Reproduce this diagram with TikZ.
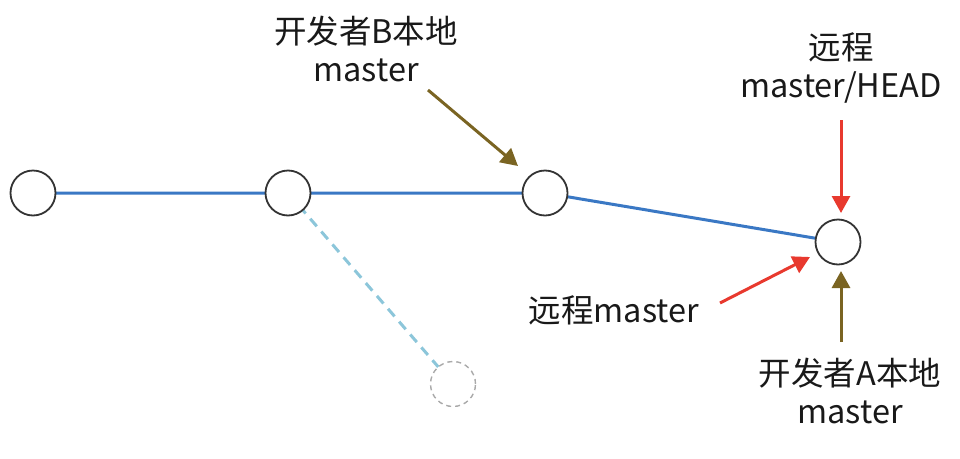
\documentclass[tikz,border=0pt]{standalone}
\usepackage{fontspec}
\setmainfont{Noto Sans CJK SC}
\usetikzlibrary{arrows.meta}
\definecolor{lineblue}{HTML}{3A78C4}
\definecolor{dashblue}{HTML}{8CC6DA}
\definecolor{ghostgray}{HTML}{AAAAAA}
\definecolor{brownarrow}{HTML}{7A6422}
\definecolor{redarrow}{HTML}{E8392E}
\begin{document}
\begin{tikzpicture}[x=1pt,y=-1pt,
  commit/.style={circle,draw=black!80,line width=1.8pt,fill=white,minimum size=45pt,inner sep=0pt},
  ghost/.style={circle,draw=ghostgray,line width=1.4pt,dash pattern=on 5pt off 4pt,fill=white,minimum size=45pt,inner sep=0pt},
  branch/.style={draw=lineblue,line width=3pt},
  dashbranch/.style={draw=dashblue,line width=3pt,dash pattern=on 10pt off 7pt},
  lbl/.style={align=center,font=\fontsize{32.5}{38.5}\selectfont,text=black!90,inner sep=0pt},
  ptr/.style={line width=3pt,-{Triangle[length=17pt,width=18pt]}}
]
\useasboundingbox (0,0) rectangle (960,458);
% edges first (under circles)
\coordinate (c1) at (33,193);
\coordinate (c2) at (288,193);
\coordinate (c3) at (545,193);
\coordinate (c4) at (838,242);
\coordinate (cg) at (453,384);
\draw[branch] (c1) -- (c2) -- (c3) -- (c4);
\draw[dashbranch] (c2) -- (cg);
\node[commit] (n1) at (c1) {};
\node[commit] (n2) at (c2) {};
\node[commit] (n3) at (c3) {};
\node[commit] (n4) at (c4) {};
\node[ghost] (g) at (cg) {};
% labels
\node[lbl] (lb) at (366,49) {开发者B本地\\master};
\node[lbl] (lh) at (841,68) {远程\\master/HEAD};
\node[lbl] (lm) at (614,310) {远程master};
\node[lbl] (la) at (850,391) {开发者A本地\\master};
% pointer arrows
\coordinate (bs) at (428,90);
\coordinate (be) at (518,166);
\coordinate (hs) at (841,120);
\coordinate (he) at (841,213);
\coordinate (ms) at (720,303);
\coordinate (me) at (810,257);
\coordinate (as) at (841,342);
\coordinate (ae) at (841,271);
\draw[ptr,draw=brownarrow,fill=brownarrow] (bs) -- (be);
\draw[ptr,draw=redarrow,fill=redarrow] (hs) -- (he);
\draw[ptr,draw=redarrow,fill=redarrow] (ms) -- (me);
\draw[ptr,draw=brownarrow,fill=brownarrow] (as) -- (ae);
\end{tikzpicture}
\end{document}
